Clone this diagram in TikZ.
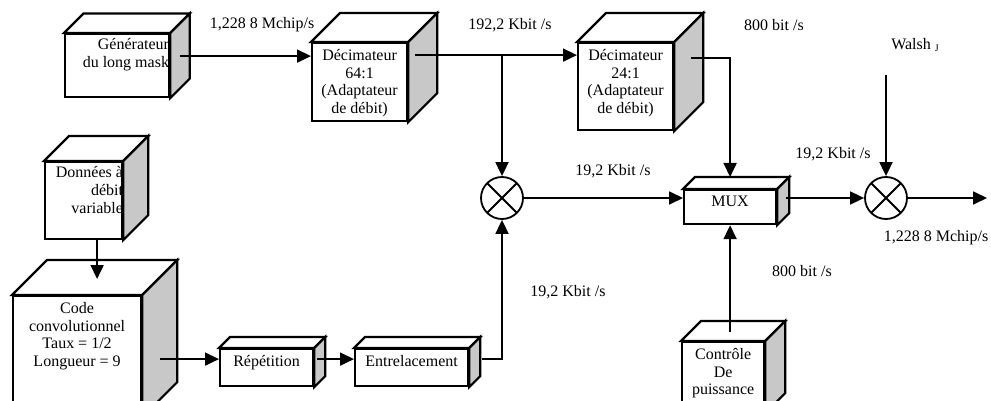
\documentclass[tikz,border=0pt]{standalone}
\usepackage{fontspec}
\setmainfont{Liberation Serif}
\usetikzlibrary{arrows.meta,calc}
\definecolor{sidegray}{RGB}{200,200,200}
\tikzset{
  blk/.style={draw, line width=2.2pt, fill=white, inner sep=0pt, anchor=north west},
  blktxt/.style={anchor=north, align=center, inner sep=2.5pt, yshift=-4.5pt},
  face/.style={draw, line width=2.2pt, fill=white},
  arr/.style={line width=1.8pt, -{Triangle[length=14pt,width=13pt]}},
  mult/.style={draw, line width=1.8pt, circle, minimum size=42pt, inner sep=0pt,
    path picture={\draw[line width=1.8pt] (path picture bounding box.north west) -- (path picture bounding box.south east)
      (path picture bounding box.south west) -- (path picture bounding box.north east);}},
  rate/.style={inner sep=0pt}
}
\newcommand{\boxsides}[2]{%
  \draw[face] (#1.north west) -- ++(#2,-#2) -- ($(#1.north east)+(#2,-#2)$) -- (#1.north east) -- cycle;
  \draw[face, fill=sidegray] (#1.north east) -- ++(#2,-#2) -- ($(#1.south east)+(#2,-#2)$) -- (#1.south east) -- cycle;
}
\begin{document}
\begin{tikzpicture}[x=1pt, y=-1pt, font=\fontsize{16}{17.8}\selectfont]
\clip (0,0) rectangle (991,401);
\node[blk, minimum width=104pt, minimum height=63pt,
  label={[blktxt, anchor=north east, align=right, inner sep=1pt]north east:Générateur\\du long mask}] (gen) at (64,33) {};
\node[blk, minimum width=95pt, minimum height=78pt,
  label={[blktxt]north:Décimateur\\64:1\\(Adaptateur\\de débit)}] (dec64) at (311,42) {};
\node[blk, minimum width=95pt, minimum height=87pt,
  label={[blktxt]north:Décimateur\\24:1\\(Adaptateur\\de débit)}] (dec24) at (577,42) {};
\node[blk, minimum width=77pt, minimum height=77pt,
  label={[blktxt, anchor=north east, align=right, inner sep=1pt, xshift=1pt]north east:Données à\\débit\\variable}] (data) at (44,161) {};
\node[blk, minimum width=128pt, minimum height=120pt,
  label={[blktxt]north:Code\\convolutionnel\\Taux = 1/2\\Longueur = 9}] (conv) at (12,295) {};
\node[blk, minimum width=93pt, minimum height=37pt,
  label={[blktxt]north:Répétition}] (rep) at (219,348) {};
\node[blk, minimum width=113pt, minimum height=37pt,
  label={[blktxt]north:Entrelacement}] (ilv) at (354,348) {};
\node[blk, minimum width=92pt, minimum height=34pt,
  label={[blktxt]north:MUX}] (mux) at (683,189) {};
\node[blk, minimum width=82pt, minimum height=70pt,
  label={[blktxt]north:Contrôle\\De\\puissance}] (pwr) at (681,341) {};
\boxsides{gen}{19.5}
\boxsides{dec64}{29}
\boxsides{dec24}{29}
\boxsides{data}{25}
\boxsides{conv}{35}
\boxsides{rep}{11}
\boxsides{ilv}{11}
\boxsides{mux}{12}
\boxsides{pwr}{20}
\node[mult] (m1) at (502,198) {};
\node[mult] (m2) at (886,198) {};
\coordinate (wtop) at (886,75);
\coordinate (out) at (987,198);

\draw[arr] ($(gen.east)+(10,-9.5)$) coordinate (p1) -- (p1 -| dec64.west);
\draw[arr] ($(dec64.east)+(7,-27)$) coordinate (p2) -- (p2 -| dec24.west);
\draw[arr] (m1 |- p2) -- (m1.north);
\draw[arr] ($(dec24.east)+(17,-28.5)$) -| ($(mux.north)+(0,-12)$);
\draw[arr] (m1.east) -- (m1.east -| mux.west);
\draw[arr] ($(mux.east |- m2)+(9,0)$) -- (m2.west);
\draw[arr] (wtop) -- (m2.north);
\draw[arr] (m2.east) -- (out);
\draw[arr] ($(data.south)+(13.5,0)$) coordinate (p3) -- ($(p3 |- conv.north)+(0,-16)$);
\draw[arr] ($(conv.east |- rep.west)+(18,-8.5)$) -- ($(rep.west)+(0,-8.5)$);
\draw[arr] ($(rep.east)+(3,-8.5)$) -- ($(ilv.west)+(0,-8.5)$);
\draw[arr] ($(ilv.east)+(13,-8.5)$) -| (m1.south);
\draw[arr] ($(mux.south |- pwr.north)+(0,-9)$) -- (mux.south);

\node[rate] (r1) at (262,25) {1,228 8 Mchip/s};
\node[rate] (r2) at (510,25) {192,2 Kbit /s};
\node[rate] (r3) at (774,25) {800 bit /s};
\node[rate] (walsh) at (915,45) {Walsh {\fontsize{10}{10}\selectfont\raisebox{-2pt}{J}}};
\node[rate] (r4) at (613,171) {19,2 Kbit /s};
\node[rate] (r5) at (833,154) {19,2 Kbit /s};
\node[rate] (r6) at (936,238) {1,228 8 Mchip/s};
\node[rate] (r7) at (802,271) {800 bit /s};
\node[rate] (r8) at (568,292) {19,2 Kbit /s};
\end{tikzpicture}
\end{document}
